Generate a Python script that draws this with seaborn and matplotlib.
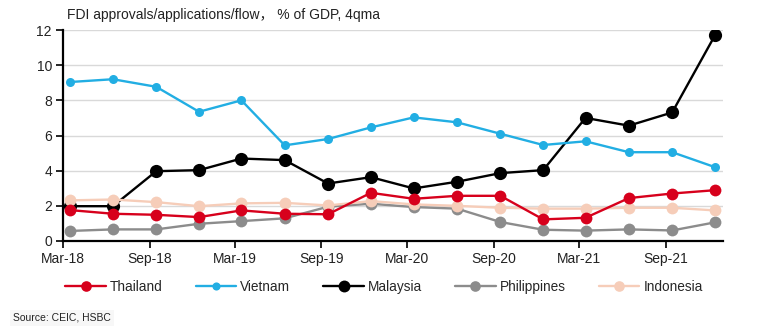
import matplotlib
matplotlib.use("Agg")
import matplotlib.pyplot as plt
from matplotlib.lines import Line2D
import seaborn as sns
import pandas as pd

# ---- data ----
quarters = ["2018-03-15", "2018-06-15", "2018-09-15", "2018-12-15",
            "2019-03-15", "2019-06-15", "2019-09-15", "2019-12-15",
            "2020-03-15", "2020-06-15", "2020-09-15", "2020-12-15",
            "2021-03-15", "2021-06-15", "2021-09-15", "2021-12-15"]
thailand = [1.76, 1.55, 1.49, 1.36, 1.74, 1.55, 1.52, 2.74,
            2.40, 2.57, 2.57, 1.23, 1.32, 2.44, 2.70, 2.89]
vietnam = [9.04, 9.20, 8.77, 7.35, 8.00, 5.44, 5.80, 6.46,
           7.03, 6.75, 6.10, 5.46, 5.67, 5.05, 5.05, 4.20]
malaysia = [1.98, 1.98, 3.97, 4.03, 4.69, 4.60, 3.27, 3.63,
            2.99, 3.37, 3.86, 4.03, 7.00, 6.56, 7.31, 11.70]
philippines = [0.57, 0.66, 0.66, 0.98, 1.13, 1.29, 1.95, 2.12,
               1.93, 1.84, 1.08, 0.64, 0.59, 0.66, 0.60, 1.06]
indonesia = [2.31, 2.36, 2.21, 1.98, 2.14, 2.17, 2.02, 2.27,
             2.08, 2.00, 1.89, 1.84, 1.84, 1.89, 1.89, 1.74]
tick_dates = ["2018-03-01", "2018-09-01", "2019-03-01", "2019-09-01",
              "2020-03-01", "2020-09-01", "2021-03-01", "2021-09-01"]
tick_labels = ["Mar-18", "Sep-18", "Mar-19", "Sep-19",
               "Mar-20", "Sep-20", "Mar-21", "Sep-21"]
series_names = ["Thailand", "Vietnam", "Malaysia", "Philippines", "Indonesia"]
title = "FDI approvals/applications/flow\uff0c % of GDP, 4qma"
source = "Source: CEIC, HSBC"

colors = {"Thailand": "#d7001c", "Vietnam": "#22aee3", "Malaysia": "#000000",
          "Philippines": "#8c8c8c", "Indonesia": "#f6cdb9"}
msize = {"Thailand": 8.5, "Vietnam": 6.5, "Malaysia": 9.5,
         "Philippines": 8.5, "Indonesia": 8.5}

df = pd.DataFrame({"date": pd.to_datetime(quarters),
                   "Thailand": thailand, "Vietnam": vietnam,
                   "Malaysia": malaysia, "Philippines": philippines,
                   "Indonesia": indonesia})
long = df.melt(id_vars="date", var_name="country", value_name="value")

sns.set_theme(style="white")
plt.rcParams["font.family"] = ["Liberation Sans", "Noto Sans CJK SC", "DejaVu Sans"]

fig = plt.figure(figsize=(7.68, 3.35), dpi=100)
ax = fig.add_axes([63 / 768, 1 - 241 / 335, (723 - 63) / 768, (241 - 30) / 335])

draw_order = ["Malaysia", "Philippines", "Indonesia", "Thailand", "Vietnam"]
for name in draw_order:
    sub = long[long["country"] == name]
    sns.lineplot(data=sub, x="date", y="value", ax=ax, color=colors[name],
                 marker="o", markersize=msize[name], markeredgewidth=0,
                 linewidth=1.7, legend=False, zorder=3)

ax.set_xlim(pd.Timestamp("2018-03-01"), pd.Timestamp("2022-01-01"))
ax.set_ylim(0, 12)
ax.set_yticks([0, 2, 4, 6, 8, 10, 12])
ax.set_xticks(pd.to_datetime(tick_dates))
ax.set_xticklabels(tick_labels)
ax.set_xlabel("")
ax.set_ylabel("")
ax.yaxis.grid(True, color="#d9d9d9", linewidth=1)
ax.set_axisbelow(True)
for s in ["top", "right"]:
    ax.spines[s].set_visible(False)
for s in ["left", "bottom"]:
    ax.spines[s].set_color("black")
    ax.spines[s].set_linewidth(1.6)
ax.tick_params(axis="both", which="major", direction="out", length=5,
               width=1.2, color="black", labelsize=10, labelcolor="#222222",
               bottom=True, left=True, pad=3)

handles = [Line2D([], [], color=colors[n], marker="o", markersize=msize[n] * 0.9,
                  markeredgewidth=0, linewidth=1.7) for n in series_names]
fig.legend(handles, series_names, loc="center", bbox_to_anchor=(384 / 768, 1 - 287 / 335),
           ncol=5, frameon=False, fontsize=9.8, handlelength=3.0,
           columnspacing=2.4, handletextpad=0.3)

fig.text(67 / 768, 1 - 15 / 335, title, fontsize=10, va="center", ha="left",
         color="#222222")
fig.text(13 / 768, 1 - 318 / 335, source, fontsize=7.5, va="center", ha="left",
         color="#222222",
         bbox=dict(facecolor="#f7f7f7", edgecolor="none", pad=2))

fig.savefig("out.png", dpi=100)
